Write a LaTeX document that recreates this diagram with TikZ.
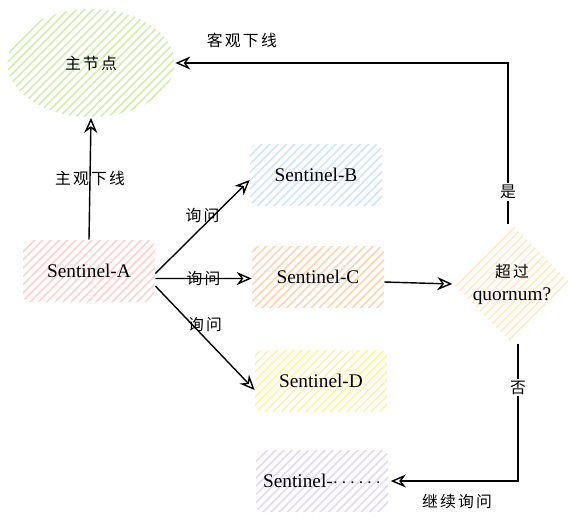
\documentclass[tikz,border=0pt]{standalone}
\usepackage{fontspec}
\setmainfont{Liberation Serif}
\newfontfamily\cjk[LetterSpace=14]{Noto Sans CJK SC}
\usepackage{tikz}
\usetikzlibrary{arrows.meta,patterns.meta,shapes.geometric}

\definecolor{mastergreen}{HTML}{D5ECB4}
\definecolor{apink}{HTML}{FFD3D3}
\definecolor{bblue}{HTML}{D2E6FA}
\definecolor{corange}{HTML}{FFD6B4}
\definecolor{dyellow}{HTML}{FFF4A8}
\definecolor{xviolet}{HTML}{E3DCF0}
\definecolor{qcream}{HTML}{FFEBC8}

\begin{document}
\begin{tikzpicture}[
  hatch/.style={draw=none,pattern={Lines[angle=45,distance=3.3pt,line width=1pt]},pattern color=#1},
  sentinel/.style={hatch=#1,rounded corners=4pt,minimum width=2.64cm,minimum height=1.24cm,font=\fontsize{11}{13}\selectfont},
  conn/.style={line width=0.8pt,-{Stealth[open,length=3mm,width=2.6mm]}},
  lbl/.style={font=\cjk\fontsize{9}{11}\selectfont,inner sep=1pt}
]
\useasboundingbox (0,0) rectangle (11.48,-10.58);
\node[hatch=mastergreen,ellipse,minimum width=3.34cm,minimum height=2.16cm,font=\cjk\fontsize{9}{11}\selectfont] (master) at (1.82,-1.26) {主节点};
\node[sentinel=apink] (senA) at (1.78,-5.42) {Sentinel-A};
\node[sentinel=bblue] (senB) at (6.32,-3.50) {Sentinel-B};
\node[sentinel=corange] (senC) at (6.36,-5.54) {Sentinel-C};
\node[sentinel=dyellow] (senD) at (6.42,-7.62) {Sentinel-D};
\node[sentinel=xviolet] (senX) at (6.44,-9.62) {Sentinel-$\cdots\cdots$};
\node[hatch=qcream,diamond,minimum width=2.1cm,minimum height=2.24cm,inner sep=0pt,align=center,font=\fontsize{11}{13}\selectfont] (quorum) at (10.24,-5.68) {{\cjk\fontsize{9}{11}\selectfont 超过}\\quornum?};
\draw[conn] (senA.north) -- (master.south) node[lbl,midway] {主观下线};
\draw[conn] ([yshift=-0.05cm]senA.east) -- ([yshift=-0.1cm]senB.west) node[lbl,midway,above=1pt] {询问};
\draw[conn] ([yshift=-0.15cm]senA.east) -- ([yshift=-0.03cm]senC.west) node[lbl,midway] {询问};
\draw[conn] ([yshift=-0.3cm]senA.east) -- ([yshift=-0.18cm]senD.west) node[lbl,midway,above=2pt] {询问};
\draw[conn] ([yshift=-0.1cm]senC.east) -- (quorum.west);
\draw[conn] ([xshift=-0.08cm]quorum.north) |- (master.east)
  node[lbl,pos=0.1,fill=white] {是}
  node[lbl,pos=0.9,above=0.25cm] {客观下线};
\draw[conn] ([xshift=0.12cm]quorum.south) |- ([xshift=0.05cm]senX.east)
  node[lbl,pos=0.16,fill=white] {否}
  node[lbl,pos=0.74,below=0.22cm] {继续询问};
\end{tikzpicture}
\end{document}
